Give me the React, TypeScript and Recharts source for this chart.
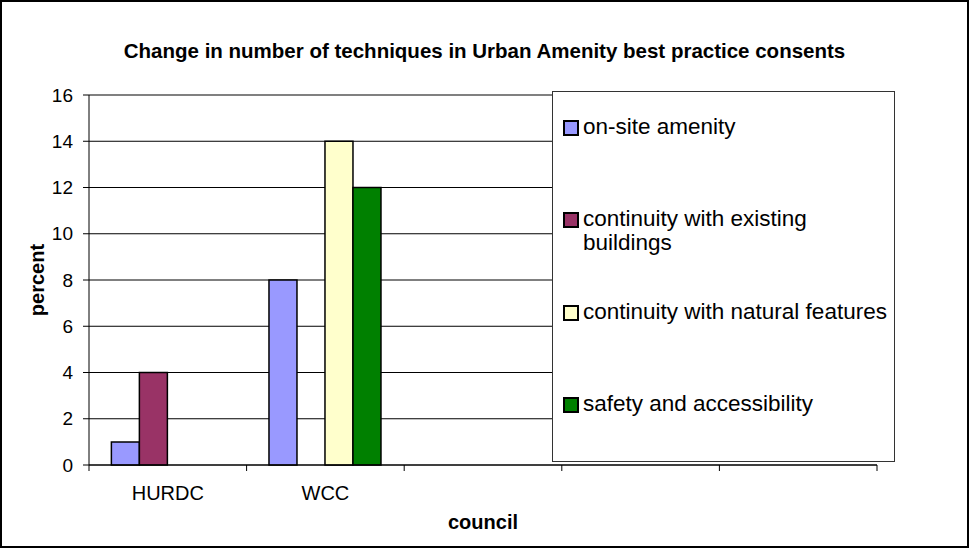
import React from 'react';
import { BarChart, Bar, XAxis, YAxis, CartesianGrid, Legend, ReferenceLine } from 'recharts';

const councils = ['HURDC', 'WCC', '', '', ''];
const onSiteAmenity = [1, 8, null, null, null];
const continuityBuildings = [4, 0, null, null, null];
const continuityNatural = [0, 14, null, null, null];
const safetyAccess = [0, 12, null, null, null];
const yTicks = [0, 2, 4, 6, 8, 10, 12, 14, 16];

const seriesNames = [
  'on-site amenity',
  'continuity with existing buildings',
  'continuity with natural features',
  'safety and accessibility',
];
const seriesColors = ['#9999FF', '#993366', '#FFFFCC', '#008000'];

const data = councils.map((c, i) => ({
  council: c,
  s0: onSiteAmenity[i],
  s1: continuityBuildings[i],
  s2: continuityNatural[i],
  s3: safetyAccess[i],
}));

const W = 969;
const H = 548;
const plotLeft = 89;
const plotRight = 877;
const band = (plotRight - plotLeft) / councils.length;
const font = 'Liberation Sans, Arial, sans-serif';

const CouncilTick = (props: any) => {
  const { x, y, payload, index } = props;
  const last = index === councils.length - 1;
  return (
    <g>
      <line x1={x - band / 2} x2={x - band / 2} y1={y - 8} y2={y - 2} stroke="#000" />
      {last && <line x1={x + band / 2} x2={x + band / 2} y1={y - 8} y2={y - 2} stroke="#000" />}
      {payload.value && (
        <text x={x} y={y + 27} textAnchor="middle" fontSize={20} fontFamily={font} fill="#000">
          {payload.value}
        </text>
      )}
    </g>
  );
};

const LegendBox = () => (
  <div
    style={{
      width: 343,
      height: 371,
      boxSizing: 'border-box',
      border: '1.5px solid #333',
      background: '#fff',
      fontFamily: font,
      fontSize: 22.5,
      position: 'relative',
    }}
  >
    {seriesNames.map((n, i) => (
      <div
        key={n}
        style={{
          position: 'absolute',
          left: 10,
          top: [23, 115, 208, 300][i],
          display: 'flex',
          alignItems: 'flex-start',
          width: 330,
          lineHeight: '24px',
        }}
      >
        <span
          style={{
            display: 'inline-block',
            width: 12,
            height: 12,
            marginTop: 5,
            marginRight: 4,
            border: '2px solid #000',
            background: seriesColors[i],
            flex: 'none',
          }}
        />
        <span style={{ width: 312 }}>{n}</span>
      </div>
    ))}
  </div>
);

export default function App() {
  return (
    <div
      style={{
        position: 'absolute',
        left: 0,
        top: 0,
        width: W,
        height: H,
        boxSizing: 'border-box',
        border: '2px solid #000',
        background: '#fff',
        fontFamily: font,
      }}
    >
      <div
        style={{
          position: 'absolute',
          left: 0,
          top: 37,
          width: W - 4,
          textAlign: 'center',
          fontWeight: 'bold',
          fontSize: 20.5,
        }}
      >
        Change in number of techniques in Urban Amenity best practice consents
      </div>
      <div style={{ position: 'absolute', left: -2, top: -2 }}>
        <BarChart
          width={W}
          height={H}
          data={data}
          margin={{ top: 95, right: W - plotRight, bottom: 53, left: 0 }}
          barCategoryGap="14.2%"
          barGap={0}
        >
          <CartesianGrid vertical={false} stroke="#000" strokeWidth={1} />
          <ReferenceLine y={16} stroke="#808080" strokeWidth={2} />
          <XAxis
            dataKey="council"
            height={30}
            tick={<CouncilTick />}
            tickLine={false}
            axisLine={{ stroke: '#000' }}
            interval={0}
            label={{
              value: 'council',
              position: 'insideBottom',
              offset: -34,
              fontSize: 20,
              fontWeight: 'bold',
              fill: '#000',
              fontFamily: font,
            }}
          />
          <YAxis
            width={plotLeft}
            domain={[0, 16]}
            ticks={yTicks}
            interval={0}
            tick={{ fontSize: 19, fill: '#000', fontFamily: font }}
            tickSize={6}
            tickMargin={10}
            tickLine={{ stroke: '#000' }}
            axisLine={{ stroke: '#000' }}
            label={{
              value: 'percent',
              angle: -90,
              position: 'center',
              dx: -8,
              fontSize: 20,
              fontWeight: 'bold',
              fill: '#000',
              fontFamily: font,
            }}
          />
          <Legend
            layout="horizontal"
            verticalAlign="middle"
            align="center"
            content={<LegendBox />}
            wrapperStyle={{ left: 552, top: 91, width: 343, height: 371 }}
          />
          {seriesNames.map((n, i) => (
            <Bar
              key={n}
              dataKey={`s${i}`}
              name={n}
              fill={seriesColors[i]}
              stroke="#000"
              strokeWidth={1.5}
              isAnimationActive={false}
            />
          ))}
        </BarChart>
      </div>
    </div>
  );
}
